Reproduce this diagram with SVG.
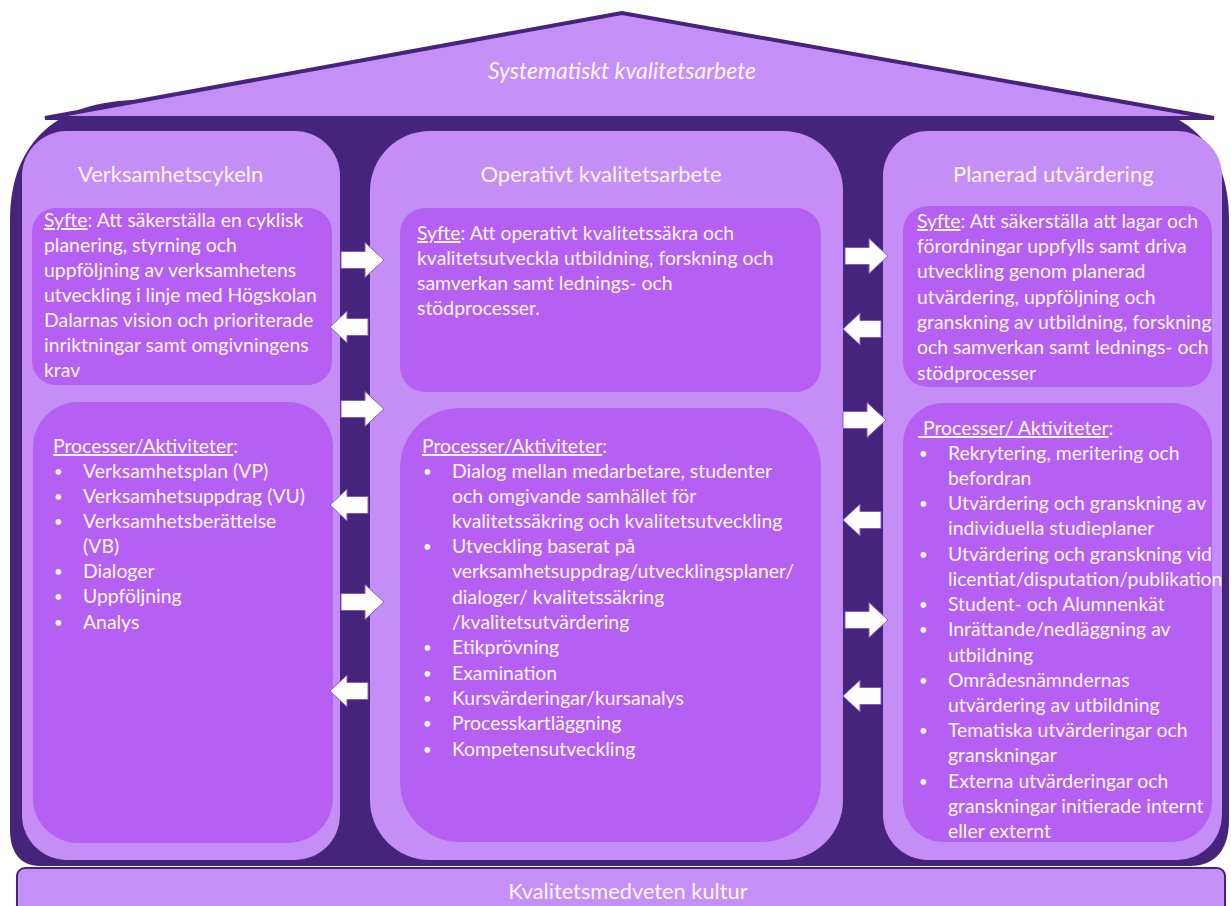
<svg xmlns="http://www.w3.org/2000/svg" width="1231" height="906" viewBox="0 0 1231 906">
<defs>
<style>
.t{font-family:Lato,"Liberation Sans",sans-serif;font-size:19.4px;fill:#fbf6ff}
.h{font-family:Lato,"Liberation Sans",sans-serif;font-size:22px;fill:#fbf6ff}
.u{text-decoration:underline}
.b{font-size:15px}
.col{fill:#c58ef7}
.in{fill:#b660f3}
.arr{fill:#ffffff;stroke:#8a55c8;stroke-width:1}
</style>
<path id="ar" d="M0,-8.5 H24 V-17.5 L43,0 L24,17.5 V8.5 H0 Z"/>
<path id="al" d="M38,-8.5 H17 V-16 L0,0 L17,16 V8.5 H38 Z"/>
</defs>
<rect width="1231" height="906" fill="#ffffff"/>
<g id="body">
<path d="M140,100 H1090 C1180,100 1229,140 1229,220 V820 C1229,850 1215,866 1190,866 H40 C20,866 10,852 10,830 V220 C10,140 60,100 140,100 Z" fill="#47247b"/>
</g>
<g id="roof">
<polygon points="622,13 45,118 1214,118" fill="#c490f8" stroke="#47247b" stroke-width="4" stroke-linejoin="miter"/>
<text x="622" y="79" text-anchor="middle" class="h" style="font-style:italic;font-size:23px">Systematiskt kvalitetsarbete</text>
</g>
<g id="col-left">
<rect class="col" x="22" y="131" width="318" height="729" rx="45"/>
<text class="h" x="78" y="182">Verksamhetscykeln</text>
<g id="left-syfte">
<rect class="in" x="32" y="208" width="300" height="177" rx="24"/>
<text class="t" x="44" y="227"><tspan class="u">Syfte</tspan>: Att säkerställa en cyklisk</text>
<text class="t" x="44" y="252">planering, styrning och</text>
<text class="t" x="44" y="277">uppföljning av verksamhetens</text>
<text class="t" x="44" y="302">utveckling i linje med Högskolan</text>
<text class="t" x="44" y="327">Dalarnas vision och prioriterade</text>
<text class="t" x="44" y="352">inriktningar samt omgivningens</text>
<text class="t" x="44" y="377">krav</text>
</g>
<g id="left-proc">
<rect class="in" x="33" y="402" width="300" height="441" rx="45"/>
<text class="t" x="53" y="453"><tspan class="u">Processer/Aktiviteter</tspan>:</text>
<text class="t" x="54" y="477"><tspan class="b">•</tspan><tspan x="83" y="478">Verksamhetsplan (VP)</tspan></text>
<text class="t" x="54" y="502"><tspan class="b">•</tspan><tspan x="83" y="503">Verksamhetsuppdrag (VU)</tspan></text>
<text class="t" x="54" y="527"><tspan class="b">•</tspan><tspan x="83" y="528">Verksamhetsberättelse</tspan></text>
<text class="t" x="83" y="553">(VB)</text>
<text class="t" x="54" y="577"><tspan class="b">•</tspan><tspan x="83" y="578">Dialoger</tspan></text>
<text class="t" x="54" y="602"><tspan class="b">•</tspan><tspan x="83" y="603">Uppföljning</tspan></text>
<text class="t" x="54" y="628"><tspan class="b">•</tspan><tspan x="83" y="629">Analys</tspan></text>
</g>
</g>
<g id="col-mid">
<rect class="col" x="370" y="131" width="473" height="729" rx="60"/>
<text class="h" x="601" y="182" text-anchor="middle">Operativt kvalitetsarbete</text>
<g id="mid-syfte">
<rect class="in" x="400" y="208" width="421" height="184" rx="25"/>
<text class="t" x="417" y="240"><tspan class="u">Syfte</tspan>: Att operativt kvalitetssäkra och</text>
<text class="t" x="417" y="265">kvalitetsutveckla utbildning, forskning och</text>
<text class="t" x="417" y="290">samverkan samt lednings- och</text>
<text class="t" x="417" y="315">stödprocesser.</text>
</g>
<g id="mid-proc">
<rect class="in" x="400" y="408" width="421" height="434" rx="60"/>
<text class="t" x="422" y="453"><tspan class="u">Processer/Aktiviteter</tspan>:</text>
<text class="t" x="423" y="477"><tspan class="b">•</tspan><tspan x="452" y="478">Dialog mellan medarbetare, studenter</tspan></text>
<text class="t" x="452" y="503">och omgivande samhället för</text>
<text class="t" x="452" y="528">kvalitetssäkring och kvalitetsutveckling</text>
<text class="t" x="423" y="552"><tspan class="b">•</tspan><tspan x="452" y="553">Utveckling baserat på</tspan></text>
<text class="t" x="452" y="578">verksamhetsuppdrag/utvecklingsplaner/</text>
<text class="t" x="452" y="604">dialoger/ kvalitetssäkring</text>
<text class="t" x="452" y="629">/kvalitetsutvärdering</text>
<text class="t" x="423" y="653"><tspan class="b">•</tspan><tspan x="452" y="654">Etikprövning</tspan></text>
<text class="t" x="423" y="679"><tspan class="b">•</tspan><tspan x="452" y="680">Examination</tspan></text>
<text class="t" x="423" y="704"><tspan class="b">•</tspan><tspan x="452" y="705">Kursvärderingar/kursanalys</tspan></text>
<text class="t" x="423" y="729"><tspan class="b">•</tspan><tspan x="452" y="730">Processkartläggning</tspan></text>
<text class="t" x="423" y="755"><tspan class="b">•</tspan><tspan x="452" y="756">Kompetensutveckling</tspan></text>
</g>
</g>
<g id="col-right">
<rect class="col" x="883" y="131" width="339" height="729" rx="45"/>
<text class="h" x="953" y="182">Planerad utvärdering</text>
<g id="right-syfte">
<rect class="in" x="903" y="206" width="309" height="181" rx="25"/>
<text class="t" x="917" y="228"><tspan class="u">Syfte</tspan>: Att säkerställa att lagar och</text>
<text class="t" x="917" y="253">förordningar uppfylls samt driva</text>
<text class="t" x="917" y="278">utveckling genom planerad</text>
<text class="t" x="917" y="304">utvärdering, uppföljning och</text>
<text class="t" x="917" y="329">granskning av utbildning, forskning</text>
<text class="t" x="917" y="354">och samverkan samt lednings- och</text>
<text class="t" x="917" y="380">stödprocesser</text>
</g>
<g id="right-proc">
<rect class="in" x="903" y="403" width="309" height="439" rx="40"/>
<text class="t" x="918" y="435"><tspan class="u" xml:space="preserve"> Processer/ Aktiviteter</tspan>:</text>
<text class="t" x="919" y="459"><tspan class="b">•</tspan><tspan x="948" y="460">Rekrytering, meritering och</tspan></text>
<text class="t" x="948" y="485">befordran</text>
<text class="t" x="919" y="509"><tspan class="b">•</tspan><tspan x="948" y="510">Utvärdering och granskning av</tspan></text>
<text class="t" x="948" y="535">individuella studieplaner</text>
<text class="t" x="919" y="560"><tspan class="b">•</tspan><tspan x="948" y="561">Utvärdering och granskning vid</tspan></text>
<text class="t" x="948" y="586">licentiat/disputation/publikation</text>
<text class="t" x="919" y="610"><tspan class="b">•</tspan><tspan x="948" y="611">Student- och Alumnenkät</tspan></text>
<text class="t" x="919" y="635"><tspan class="b">•</tspan><tspan x="948" y="636">Inrättande/nedläggning av</tspan></text>
<text class="t" x="948" y="662">utbildning</text>
<text class="t" x="919" y="686"><tspan class="b">•</tspan><tspan x="948" y="687">Områdesnämndernas</tspan></text>
<text class="t" x="948" y="712">utvärdering av utbildning</text>
<text class="t" x="919" y="736"><tspan class="b">•</tspan><tspan x="948" y="737">Tematiska utvärderingar och</tspan></text>
<text class="t" x="948" y="762">granskningar</text>
<text class="t" x="919" y="787"><tspan class="b">•</tspan><tspan x="948" y="788">Externa utvärderingar och</tspan></text>
<text class="t" x="948" y="813">granskningar initierade internt</text>
<text class="t" x="948" y="838">eller externt</text>
</g>
</g>
<g id="base">
<rect x="17" y="868" width="1208" height="50" rx="8" fill="#c490f8" stroke="#47247b" stroke-width="2"/>
<text class="h" x="628" y="899" text-anchor="middle" style="font-size:21.8px">Kvalitetsmedveten kultur</text>
</g>
<g id="connectors">
<use href="#ar" class="arr" x="341" y="260"/>
<use href="#al" class="arr" x="330" y="327"/>
<use href="#ar" class="arr" x="341" y="409"/>
<use href="#al" class="arr" x="330" y="505"/>
<use href="#ar" class="arr" x="341" y="602"/>
<use href="#al" class="arr" x="330" y="691"/>
<use href="#ar" class="arr" x="845" y="256"/>
<use href="#al" class="arr" x="843" y="329"/>
<use href="#ar" class="arr" x="843" y="420"/>
<use href="#al" class="arr" x="843" y="520"/>
<use href="#ar" class="arr" x="845" y="620"/>
<use href="#al" class="arr" x="843" y="696"/>
</g>
</svg>
